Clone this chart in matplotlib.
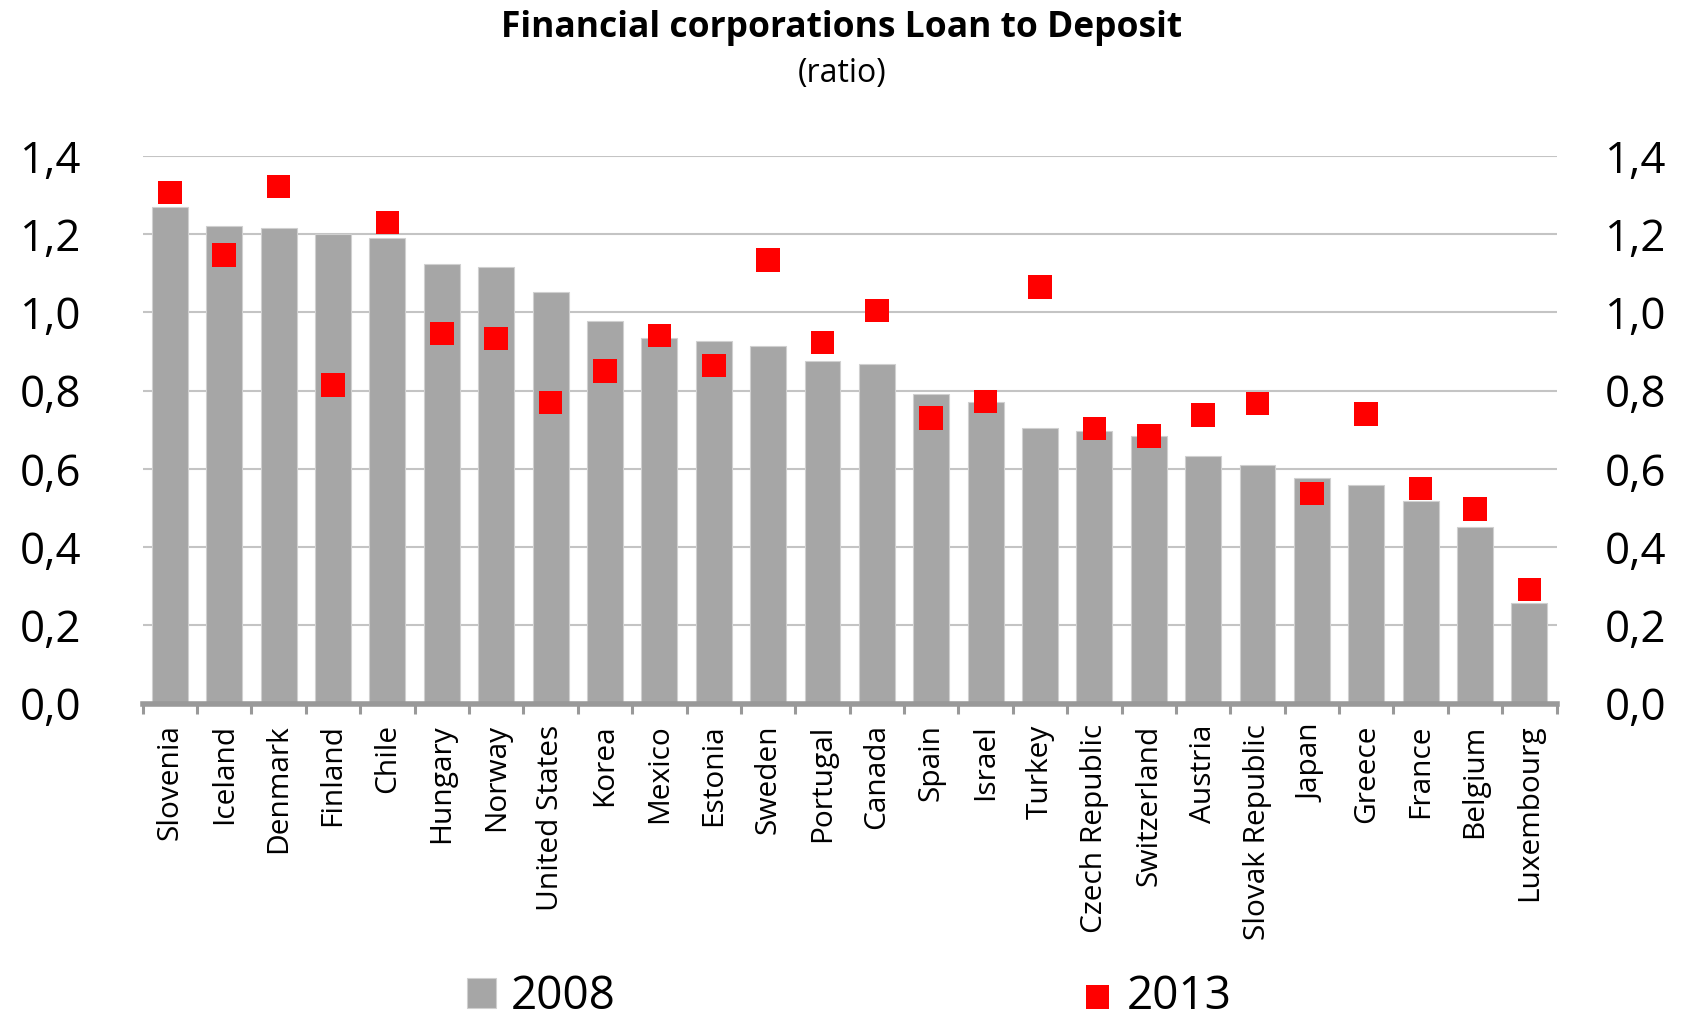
import matplotlib
matplotlib.use("Agg")
import matplotlib.pyplot as plt
import numpy as np
from matplotlib.ticker import FixedLocator, FuncFormatter

plt.rcParams['font.family'] = ['Open Sans', 'DejaVu Sans']

countries = ["Slovenia", "Iceland", "Denmark", "Finland", "Chile", "Hungary", "Norway",
             "United States", "Korea", "Mexico", "Estonia", "Sweden", "Portugal", "Canada",
             "Spain", "Israel", "Turkey", "Czech Republic", "Switzerland", "Austria",
             "Slovak Republic", "Japan", "Greece", "France", "Belgium", "Luxembourg"]
values_2008 = [1.270, 1.221, 1.215, 1.201, 1.190, 1.124, 1.115, 1.051, 0.979, 0.935,
               0.926, 0.913, 0.876, 0.869, 0.791, 0.771, 0.705, 0.696, 0.683, 0.634,
               0.609, 0.576, 0.558, 0.518, 0.452, 0.258]
values_2013 = [1.307, 1.147, 1.322, 0.814, 1.230, 0.946, 0.933, 0.770, 0.851, 0.941,
               0.864, 1.134, 0.923, 1.005, 0.730, 0.772, 1.065, 0.703, 0.684, 0.738,
               0.767, 0.537, 0.740, 0.550, 0.498, 0.292]
y_ticks = [0.0, 0.2, 0.4, 0.6, 0.8, 1.0, 1.2, 1.4]
series_labels = ["2008", "2013"]

W, H = 1683, 1022
fig = plt.figure(figsize=(W / 100, H / 100), dpi=100)
ax = fig.add_axes([142.7 / W, 1 - 703.5 / H, (1556.6 - 142.7) / W, (703.5 - 156) / H])

x = np.arange(len(countries))
bars = ax.bar(x, values_2008, width=0.66, color='#a6a6a6', edgecolor='#d0d0d0',
              linewidth=0.8, zorder=2, label=series_labels[0])
sc = ax.scatter(x, values_2013, marker='s', s=17 ** 2, color='#ff0000',
                edgecolors='none', zorder=3, label=series_labels[1])

ax.set_xlim(-0.5, len(countries) - 0.5)
ax.set_ylim(0, 1.4)
fmt = FuncFormatter(lambda v, p: f"{v:.1f}".replace('.', ','))
ax.yaxis.set_major_locator(FixedLocator(y_ticks))
ax.yaxis.set_major_formatter(fmt)
ax.grid(axis='y', color='#c4c4c4', linewidth=1.5, zorder=0)
ax.set_axisbelow(True)

for s in ['top', 'left', 'right']:
    ax.spines[s].set_visible(False)
ax.spines['bottom'].set_color('#999999')
ax.spines['bottom'].set_linewidth(4)
ax.spines['bottom'].set_zorder(4)

ax.set_xticks(x)
ax.set_xticklabels(countries, rotation=90, ha='center', va='top', fontsize=21.5)
ax.set_xticks(np.arange(-0.5, len(countries)), minor=True)
ax.tick_params(axis='x', which='major', length=0, pad=15)
ax.tick_params(axis='x', which='minor', length=7, width=2.2, color='#999999', direction='out')
ax.tick_params(axis='y', which='both', length=0, pad=44, labelsize=31.5)

ax2 = ax.twinx()
ax2.set_ylim(ax.get_ylim())
ax2.yaxis.set_major_locator(FixedLocator(y_ticks))
ax2.yaxis.set_major_formatter(fmt)
for s in ax2.spines.values():
    s.set_visible(False)
ax2.tick_params(axis='y', length=0, pad=35, labelsize=31.5)

fig.text(842 / W, 1 - 37 / H, "Financial corporations Loan to Deposit",
         ha='center', va='baseline', fontsize=25.5, fontweight='bold')
fig.text(842 / W, 1 - 82 / H, "(ratio)", ha='center', va='baseline', fontsize=23)

leg1 = fig.legend(handles=[bars], labels=[series_labels[0]], loc='lower left',
                  bbox_to_anchor=(467 / W, 0.002), frameon=False, fontsize=33,
                  handlelength=0.63, handleheight=0.63, handletextpad=0.33,
                  borderpad=0, borderaxespad=0)
leg2 = fig.legend(handles=[sc], labels=[series_labels[1]], loc='lower left',
                  bbox_to_anchor=(1085 / W, 0.002), frameon=False, fontsize=33,
                  handlelength=0.55, handletextpad=0.37, scatterpoints=1,
                  borderpad=0, borderaxespad=0)

fig.savefig("out.png", dpi=100)
